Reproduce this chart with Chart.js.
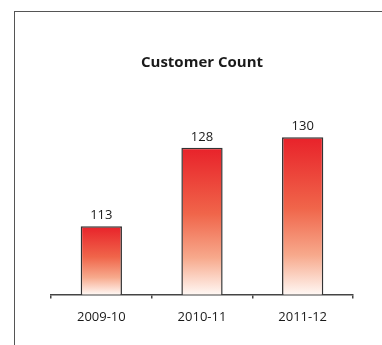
<!DOCTYPE html>
<html>
<head>
<meta charset="utf-8">
<script src="https://cdn.jsdelivr.net/npm/chart.js@4"></script>
<style>
  html, body { margin: 0; padding: 0; background: #fff; }
  #wrap { position: relative; width: 382px; height: 345px; }
  #frame {
    position: absolute; left: 14px; top: 11px; right: 0; bottom: 0;
    border-left: 1px solid #555; border-top: 1px solid #555;
  }
  canvas { position: absolute; left: 0; top: 0; }
</style>
</head>
<body>
<div id="wrap">
  <div id="frame"></div>
  <canvas id="customer-chart" width="382" height="345"></canvas>
</div>
<script>
//
// Customer count chart
//
const years = ['2009-10', '2010-11', '2011-12'];
const customerCounts = [113, 128, 130];
const yMin = 100;
const yMax = 140;

const customerCanvas = document.getElementById('customer-chart');

// red to white gradient, one per bar
function barGradient(context) {
    const chart = context.chart;
    const area = chart.chartArea;
    if (!area || context.parsed === undefined) {
        return '#e8262a';
    }
    const yScale = chart.scales.y;
    const top = yScale.getPixelForValue(context.parsed.y);
    const bottom = yScale.getPixelForValue(yScale.min);
    const grad = chart.ctx.createLinearGradient(0, top, 0, bottom);
    grad.addColorStop(0, '#e8222a');
    grad.addColorStop(0.45, '#f0654a');
    grad.addColorStop(0.75, '#f7a98c');
    grad.addColorStop(1, '#fff7f3');
    return grad;
}

// value labels on top of the bars
const valueLabels = {
    id: 'valueLabels',
    afterDatasetsDraw(chart) {
        const ctx = chart.ctx;
        const meta = chart.getDatasetMeta(0);
        ctx.save();
        ctx.font = '13px "Open Sans"';
        ctx.fillStyle = '#1a1a1a';
        ctx.textAlign = 'center';
        ctx.textBaseline = 'middle';
        meta.data.forEach((bar, i) => {
            ctx.fillText(customerCounts[i], bar.x, bar.y - 11);
        });
        ctx.restore();
    }
};

let customerData = {
    labels: years,
    datasets: [{
        data: customerCounts,
        backgroundColor: barGradient,
        borderColor: '#333',
        borderWidth: 1.5,
        borderSkipped: false,
        barPercentage: 0.41,
        categoryPercentage: 1
    }]
};

let customerOptions = {
    responsive: false,
    animation: {
        duration: 0
    },
    layout: {
        padding: { left: 51, right: 29, top: 0, bottom: 9 }
    },
    scales: {
        x: {
            grid: {
                drawOnChartArea: false,
                drawTicks: true,
                tickLength: 4,
                color: '#444',
                lineWidth: 1.5
            },
            border: {
                display: true,
                color: '#444',
                width: 1.5
            },
            ticks: {
                color: '#1a1a1a',
                padding: 11,
                font: { family: 'Open Sans', size: 13 }
            }
        },
        y: {
            display: false,
            min: yMin,
            max: yMax
        }
    },
    plugins: {
        legend: {
            display: false
        },
        tooltip: {
            enabled: false
        },
        title: {
            display: true,
            text: 'Customer Count',
            color: '#1a1a1a',
            font: { family: 'Open Sans', size: 15, weight: 'bold' },
            padding: { top: 54, bottom: 13 }
        }
    }
};

let customerChart = new Chart(customerCanvas, {
    type: 'bar',
    data: customerData,
    options: customerOptions,
    plugins: [valueLabels]
});
</script>
</body>
</html>
